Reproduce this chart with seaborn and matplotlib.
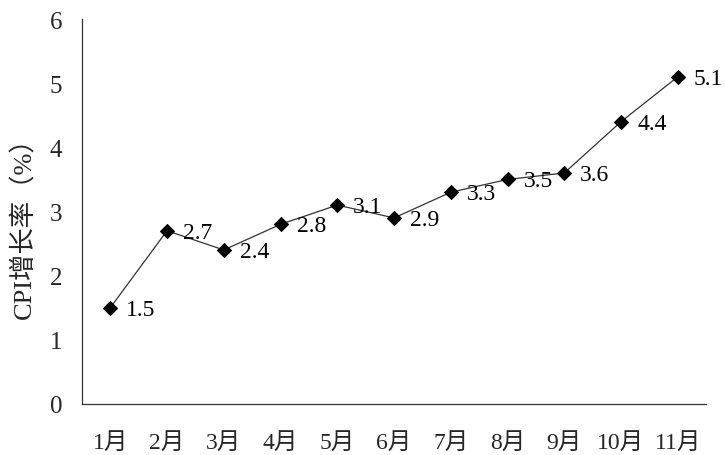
import matplotlib
matplotlib.use("Agg")
import matplotlib.pyplot as plt
import seaborn as sns
import pandas as pd
import numpy as np

months = ["1月", "2月", "3月", "4月", "5月", "6月", "7月", "8月", "9月", "10月", "11月"]
cpi = [1.5, 2.7, 2.4, 2.8, 3.1, 2.9, 3.3, 3.5, 3.6, 4.4, 5.1]
y_ticks = [0, 1, 2, 3, 4, 5, 6]

sns.set_theme(style="white")
fonts = ["Liberation Serif", "Noto Sans CJK SC", "DejaVu Sans"]
plt.rcParams["font.family"] = fonts

df = pd.DataFrame({"month": months, "cpi": cpi})

fig = plt.figure(figsize=(7.25, 4.56), dpi=100)
ax = fig.add_axes([0.113, 0.112, 0.861, 0.844])

sns.lineplot(data=df, x="month", y="cpi", ax=ax, sort=False,
             color="#333333", linewidth=0.9, marker="D", markersize=7,
             markerfacecolor="black", markeredgecolor="black")

for i, v in enumerate(cpi):
    ax.annotate(f"{v:.1f}", (i, v), xytext=(11.5, -1), textcoords="offset points",
                ha="left", va="center", fontsize=17, color="black")

ax.set_xlim(-0.5, len(months) - 0.5)
ax.set_ylim(0, 6)
ax.set_yticks(y_ticks)
ax.set_yticklabels([str(t) for t in y_ticks], fontsize=18)
ax.set_xticks(range(len(months)))
ax.set_xticklabels(months, fontsize=17)
ax.set_xticks(np.arange(0.5, len(months), 1.0), minor=True)

ax.tick_params(axis="x", which="major", length=0, pad=20)
ax.tick_params(axis="x", which="minor", direction="in", length=6, width=0.9, color="#333333")
ax.tick_params(axis="y", which="major", direction="in", length=7, width=0.9, color="#333333", pad=14)

ax.set_xlabel("")
ax.set_ylabel("CPI增长率（%）", fontsize=19)
ax.yaxis.set_label_coords(-0.073, 0.475)

for side in ["top", "right"]:
    ax.spines[side].set_visible(False)
for side in ["left", "bottom"]:
    ax.spines[side].set_color("#333333")
    ax.spines[side].set_linewidth(0.9)

fig.savefig("out.png", dpi=100)
